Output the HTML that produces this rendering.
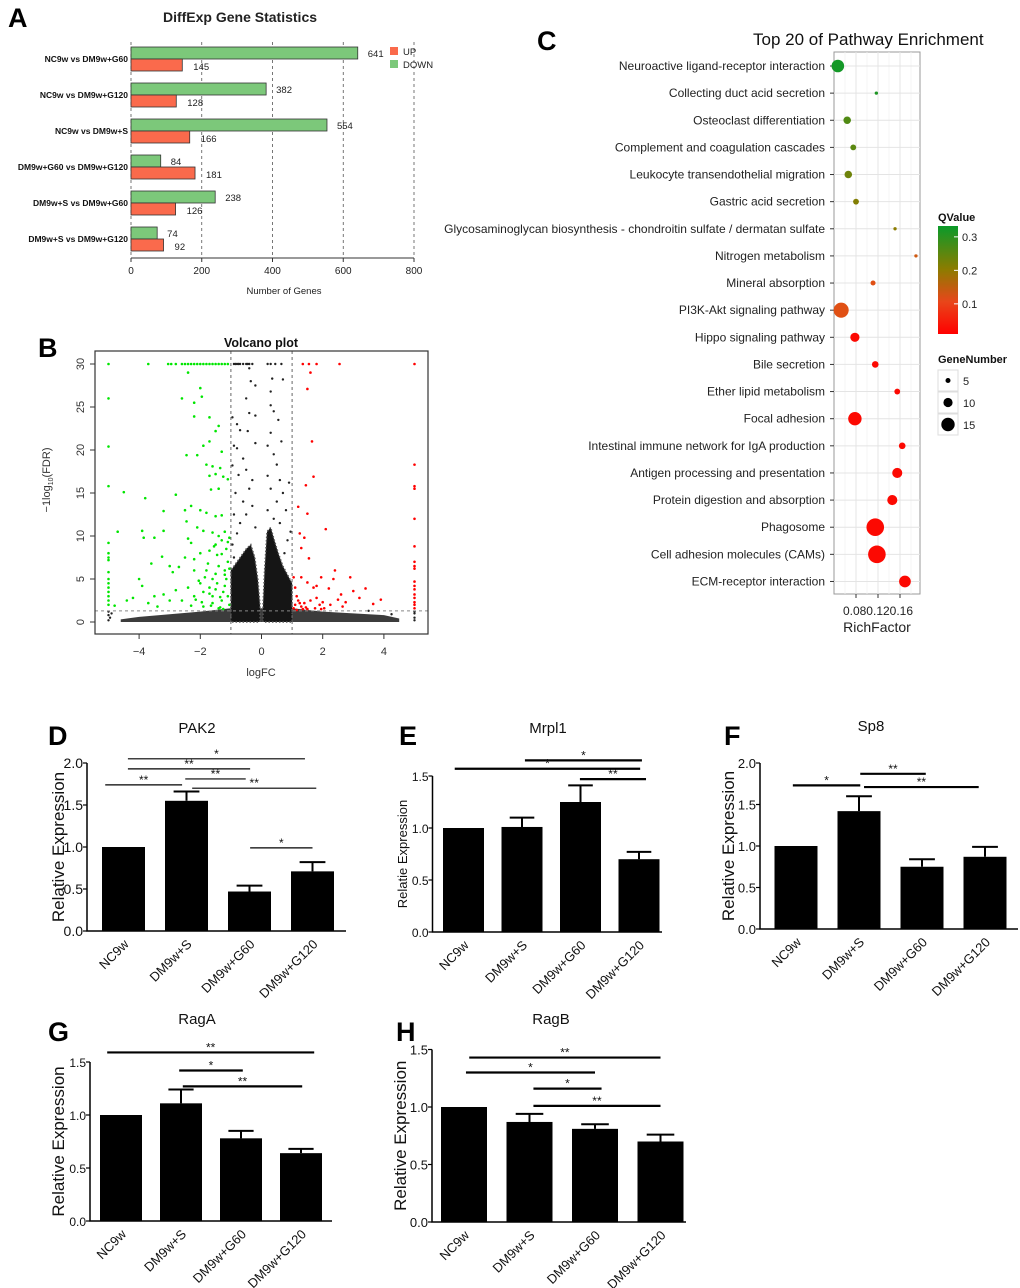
<!DOCTYPE html>
<html><head><meta charset="utf-8"><style>
html,body{margin:0;padding:0;background:#fff}
svg{display:block;font-family:"Liberation Sans",Arial,sans-serif}
</style></head><body>
<svg id="fig" width="1020" height="1288" viewBox="0 0 1020 1288" xmlns="http://www.w3.org/2000/svg">
<defs>
<linearGradient id="qgrad" x1="0" y1="1" x2="0" y2="0">
<stop offset="0" stop-color="#ff0000"/><stop offset="0.3" stop-color="#e8461a"/><stop offset="0.6" stop-color="#8c7c00"/><stop offset="1" stop-color="#0a9a2a"/>
</linearGradient>
</defs>
</svg>
<script>
// ---------- Panel A data ----------
const aCats=["NC9w vs DM9w+G60","NC9w vs DM9w+G120","NC9w vs DM9w+S","DM9w+G60 vs DM9w+G120","DM9w+S vs DM9w+G60","DM9w+S vs DM9w+G120"];
const aDown=[641,382,554,84,238,74];
const aUp=[145,128,166,181,126,92];
const aTicks=[0,200,400,600,800];
// ---------- Panel C data ----------
const cPathways=["Neuroactive ligand-receptor interaction","Collecting duct acid secretion","Osteoclast differentiation","Complement and coagulation cascades","Leukocyte transendothelial migration","Gastric acid secretion","Glycosaminoglycan biosynthesis - chondroitin sulfate / dermatan sulfate","Nitrogen metabolism","Mineral absorption","PI3K-Akt signaling pathway","Hippo signaling pathway","Bile secretion","Ether lipid metabolism","Focal adhesion","Intestinal immune network for IgA production","Antigen processing and presentation","Protein digestion and absorption","Phagosome","Cell adhesion molecules (CAMs)","ECM-receptor interaction"];
const cRich=[0.047,0.117,0.064,0.075,0.066,0.080,0.151,0.189,0.111,0.053,0.078,0.115,0.155,0.078,0.164,0.155,0.146,0.115,0.118,0.169];
const cGenes=[14,3,8,6,8,6,3,3,5,17,10,7,6,15,7,11,11,20,20,13];
const cQ=[0.32,0.31,0.26,0.25,0.23,0.21,0.20,0.12,0.10,0.10,0.02,0.02,0.02,0.02,0.02,0.02,0.02,0.02,0.02,0.02];
const cXTicks=[0.08,0.12,0.16];
const cQTicks=[0.3,0.2,0.1];
const cSizeKeys=[5,10,15];
// ---------- Panel B data ----------
const greenX=[-5,-5,-5,-5,-5,-5,-5,-5,-5,-5,-5,-5,-5,-5,-5,-5,-4.5,-4.7,-3.8,-3.9,-3.85,-3.5,-3.2,-3.2,-3.25,-3.6,-4,-3.9,-2.8,-3,-2.9,-2.5,-2.45,-2.4,-2.3,-2.45,-2.6,-2.2,-2.2,-2.4,-2,-1.95,-1.7,-1.4,-1.5,-1.9,-1.7,-1.3,-2.1,-1.8,-1.6,-1.35,-1.7,-1.5,-1.25,-1.1,-1.65,-1.4,-2,-1.8,-1.5,-1.3,-2.3,-2.1,-1.9,-1.6,-1.2,-1.05,-1.3,-1.5,-1.7,-2,-2.2,-2.5,-2.7,-2.2,-1.8,-1.4,-1.1,-1.2,-1.6,-2,-2.4,-2.8,-3.2,-3.5,-4.2,-4.4,-3.7,-3,-2.6,-2.2,-1.9,-1.5,-1.2,-1.1,-1.3,-1.6,-1.9,-2.3,-1.05,-1.4,-1.7,-1.45,-1.25,-1.15,-1.6,-1.35,-4.8,-3.4,-3.7,-3.05,-2.95,-2.8,-2.6,-2.5,-2.4,-2.3,-2.2,-2.1,-2.0,-1.9,-1.8,-1.7,-1.6,-1.5,-1.4,-1.3,-1.2,-1.1,-1.75,-1.45,-1.15,-1.05,-1.55,-1.85,-2.05,-1.25,-1.35,-1.65,-1.95,-2.15,-1.1,-1.3,-1.5,-1.7,-1.2,-1.4];
const greenY=[30,26,20.4,15.8,9.2,8,7.5,7.2,5.8,5,4.5,4,3.5,3,2.5,2,15.1,10.5,14.4,10.6,9.8,9.8,12.9,10.6,7.6,6.8,5,4.2,14.8,6.5,5.8,13,11.7,9.7,9.2,19.4,26,25.5,23.9,29,27.2,26.2,23.8,22.8,22.2,20.5,21,19.8,19.4,18.3,18.1,17.9,17,17.2,16.9,16.6,15.4,15.5,13,12.7,12.3,12.4,13.5,11,10.6,10.4,10.5,9.8,9.5,9,8.3,8,7.3,7.5,6.4,6,6,6.5,7,5.5,5,4.5,4,3.7,3.2,3,2.8,2.5,2.2,2.5,2.5,3,3.5,3.8,4.2,3,2.5,2.2,1.8,1.9,2,1.6,4,4.5,3.5,5,3,2.9,1.9,1.8,30,30,30,30,30,30,30,30,30,30,30,30,30,30,30,30,30,30,30,30,6.8,7.8,8.5,6.2,8.8,5.2,4.8,1.5,1.7,1.9,2.3,2.6,9.3,7.9,5.6,3.3,6,10];
const redX=[5,5,5,5,5,5,5,5,5,5,5,5,5,5,5,5,5,1.35,1.55,1.8,2.55,1.6,1.5,1.65,1.7,1.45,1.5,1.2,1.25,1.4,1.3,1.55,2.1,1.3,1.05,1.1,1.5,1.7,1.95,1.8,2.4,2.35,2.9,2.6,3,3.4,2.2,1.8,1.6,1.4,1.2,1.1,1.3,1.5,2,2.25,2.5,2.75,3.2,3.9,3.65,2.65,1.95,1.15,1.25,1.05,1.35,1.45,1.75,1.9,1.15,2.05];
const redY=[30,18.3,15.8,15.5,12,8.8,7,6.5,6.2,4.7,4.2,3.8,3.2,2.8,2.3,2,1.6,30,30,30,30,29,27.1,21,16.9,15.9,12.6,13.4,10.3,9.8,8.6,7.4,10.8,5.2,5.2,4,4.6,4,5.2,4.2,6,5,5.2,3.2,3.6,3.9,3.9,2.8,2.5,2.2,2.5,2,1.8,1.5,2.3,2,2.6,2.3,2.8,2.6,2.1,1.8,1.5,3,2.2,1.6,1.5,1.7,1.6,2,1.4,1.6];
const blackX=[-0.9,-0.85,-0.8,-0.75,-0.7,-0.6,-0.5,-0.45,-0.4,-0.3,0.2,0.3,0.45,0.65,-0.4,-0.35,-0.2,0.35,0.7,0.3,-0.5,0.3,0.4,-0.4,-0.2,-0.95,-0.8,0.55,0.3,-0.7,-0.45,0.2,0.65,-0.9,-0.8,-0.2,0.4,-0.6,0.5,-0.95,-0.5,0.2,-0.75,0.9,0.6,-0.3,0.3,-0.4,0.7,-0.85,0.5,-0.6,-0.3,0.8,0.2,-0.9,-0.5,0.4,0.6,-0.7,-0.2,0.95,-0.8,0.85,-0.95,0.75,-0.9,4.25,3.5,-4.9,-4.95,-5,-5,-5,5,5,5,5];
const blackY=[30,30,30,30,30,30,30,30,30,30,30,30,30,30,29.5,28,27.5,28.3,28.2,26.8,26,25.2,24.5,24.3,24,23.8,23,23.5,22,22.3,22.2,20.5,21,20.5,20.2,20.8,19.5,19,18.3,18.2,17.7,17,17.1,16.2,16.5,16.5,15.5,15.5,15,15,14,14,13.5,13,13,12.5,12.5,12,11.5,11.5,11,10.5,10.3,9.5,9,8,7.5,0.9,1.3,1,0.5,0.2,0.8,1.2,0.5,1,0.2,1.2];
const coreLX=[-1,-0.9,-0.7,-0.5,-0.35,-0.22,-0.12,-0.05];
const coreLY=[6,6.5,7.5,8.5,9,7.5,5,2];
const coreRX=[0.05,0.1,0.18,0.3,0.42,0.55,0.7,0.85,1];
const coreRY=[2,6,10.5,11,9.5,8,6.5,5.5,4.5];
const baseX=[-4.6,-4,-3,-2,-1,0,1,2,3,4,4.5];
const baseY=[0.3,0.6,0.9,1.2,1.6,1.6,1.6,1.2,1,0.8,0.4];
const vXTicks=[-4,-2,0,2,4];
const vYTicks=[0,5,10,15,20,25,30];
// ---------- Bar panels data ----------
const barCats=["NC9w","DM9w+S","DM9w+G60","DM9w+G120"];
const dVals=[1.0,1.55,0.47,0.71]; const dErrs=[0,0.11,0.07,0.11];
const dSigY=[2.05,1.93,1.74,1.81,1.70,0.99]; const dSigA=[0.07,0.07,-0.29,0.98,1.09,2.01]; const dSigB=[2.88,2.01,0.93,1.94,3.06,3.0]; const dSigL=["*","**","**","**","**","*"];
const dTicks=[0.0,0.5,1.0,1.5,2.0];
const eVals=[1.0,1.01,1.25,0.70]; const eErrs=[0,0.09,0.16,0.07];
const eSigY=[1.65,1.57,1.47]; const eSigA=[1.05,-0.15,1.99]; const eSigB=[3.05,3.02,3.12]; const eSigL=["*","*","**"];
const eTicks=[0.0,0.5,1.0,1.5];
const fVals=[1.0,1.42,0.75,0.87]; const fErrs=[0,0.18,0.09,0.12];
const fSigY=[1.73,1.87,1.71]; const fSigA=[-0.05,1.02,1.08]; const fSigB=[1.02,2.06,2.9]; const fSigL=["*","**","**"];
const fTicks=[0.0,0.5,1.0,1.5,2.0];
const gVals=[1.0,1.11,0.78,0.64]; const gErrs=[0,0.13,0.07,0.04];
const gSigY=[1.59,1.42,1.27]; const gSigA=[-0.23,0.97,1.03]; const gSigB=[3.22,2.03,3.02]; const gSigL=["**","*","**"];
const gTicks=[0.0,0.5,1.0,1.5];
const hVals=[1.0,0.87,0.81,0.70]; const hErrs=[0,0.07,0.04,0.06];
const hSigY=[1.43,1.30,1.16,1.01]; const hSigA=[0.08,0.03,1.06,1.06]; const hSigB=[3.0,2.0,2.1,3.0]; const hSigL=["**","*","*","**"];
const hTicks=[0.0,0.5,1.0,1.5];

const NS="http://www.w3.org/2000/svg";
const svg=document.getElementById("fig");
function mk(p,tag,at,txt){const e=document.createElementNS(NS,tag);for(const k in at)e.setAttribute(k,at[k]);if(txt!==undefined)e.textContent=txt;p.appendChild(e);return e;}
function grp(name){const g=mk(svg,"g",{});return g;}

// ================= Panel A =================
(function(){
const g=grp("panel-a-diffexp-bars");
let el;
el=mk(g,"text",{x:8,y:27,"font-size":27,"font-weight":"bold"},"A");


el=mk(g,"text",{x:240,y:22,"font-size":14,"font-weight":"bold","text-anchor":"middle",fill:"#222"},"DiffExp Gene Statistics");


const xA=v=>131+v*283/800;
aTicks.forEach(t=>{
  el=mk(g,"line",{x1:xA(t),x2:xA(t),y1:42,y2:258,stroke:"#555","stroke-dasharray":"3,3","stroke-width":0.8});
  
  
  el=mk(g,"line",{x1:xA(t),x2:xA(t),y1:258,y2:262,stroke:"#333"});
  
  
  el=mk(g,"text",{x:xA(t),y:274,"font-size":10,"text-anchor":"middle",fill:"#222"},String(t));
  
  
});
el=mk(g,"line",{x1:131,x2:414,y1:258,y2:258,stroke:"#333","stroke-width":1});


aCats.forEach((c,i)=>{
  const top=47+36*i;
  el=mk(g,"rect",{x:xA(0),y:top,width:xA(aDown[i])-xA(0),height:12,fill:"#7cc87a",stroke:"#333","stroke-width":0.8});
  
  
  el=mk(g,"rect",{x:xA(0),y:top+12,width:xA(aUp[i])-xA(0),height:12,fill:"#fa6a4c",stroke:"#333","stroke-width":0.8});
  
  
  el=mk(g,"text",{x:xA(aDown[i])+10,y:top+10,"font-size":9.5,fill:"#222"},String(aDown[i]));
  
  
  el=mk(g,"text",{x:xA(aUp[i])+11,y:top+23,"font-size":9.5,fill:"#222"},String(aUp[i]));
  
  
  el=mk(g,"text",{x:128,y:top+15,"font-size":8.5,"font-weight":"bold","text-anchor":"end",fill:"#111"},c);
  
  
});
el=mk(g,"text",{x:284,y:294,"font-size":9.5,"text-anchor":"middle",fill:"#222"},"Number of Genes");


el=mk(g,"rect",{x:390,y:47,width:8,height:8,fill:"#fa6a4c"});


el=mk(g,"text",{x:403,y:55,"font-size":9.5,fill:"#222"},"UP");


el=mk(g,"rect",{x:390,y:60,width:8,height:8,fill:"#7cc87a"});


el=mk(g,"text",{x:403,y:68,"font-size":9.5,fill:"#222"},"DOWN");


})();

// ================= Panel C =================
(function(){
const g=grp("panel-c-pathway-enrichment");
let el;
el=mk(g,"text",{x:537,y:50,"font-size":27,"font-weight":"bold"},"C");


el=mk(g,"text",{x:753,y:45,"font-size":17,fill:"#111"},"Top 20 of Pathway Enrichment");


const xC=v=>856+(v-0.08)*550;
const yC=i=>66+i*27.13;
el=mk(g,"rect",{x:834,y:52,width:86,height:542,fill:"#fff",stroke:"#999","stroke-width":1});


[0.06,0.10,0.14,0.18].forEach(v=>{
  el=mk(g,"line",{x1:xC(v),x2:xC(v),y1:52,y2:594,stroke:"#f2f2f2","stroke-width":0.8});
  
  
});
cXTicks.forEach(v=>{
  el=mk(g,"line",{x1:xC(v),x2:xC(v),y1:52,y2:594,stroke:"#e4e4e4","stroke-width":1});
  
  
  el=mk(g,"line",{x1:xC(v),x2:xC(v),y1:594,y2:598,stroke:"#333"});
  
  
});
el=mk(g,"text",{x:878,y:615,"font-size":12,"text-anchor":"middle",fill:"#222"},cXTicks.map(v=>v.toFixed(2)).join(""));


el=mk(g,"text",{x:877,y:632,"font-size":14,"text-anchor":"middle",fill:"#222"},"RichFactor");


function qcol(q){const stops=[[0.01,[255,0,0]],[0.1,[224,80,20]],[0.2,[140,124,0]],[0.33,[10,154,42]]];
  if(q<=stops[0][0])return "rgb(255,0,0)";
  for(let k=1;k<stops.length;k++){if(q<=stops[k][0]){const a=stops[k-1],b=stops[k],t=(q-a[0])/(b[0]-a[0]);return "rgb("+a[1].map((c,j)=>Math.round(c+(b[1][j]-c)*t)).join(",")+")";}}
  return "rgb(10,154,42)";}
const rad=n=>0.42*n+0.4;
cPathways.forEach((p,i)=>{
  el=mk(g,"line",{x1:834,x2:920,y1:yC(i),y2:yC(i),stroke:"#e4e4e4","stroke-width":1});
  
  
  el=mk(g,"line",{x1:830,x2:834,y1:yC(i),y2:yC(i),stroke:"#333"});
  
  
  el=mk(g,"text",{x:825,y:yC(i)+4,"font-size":12,"text-anchor":"end",fill:"#222"},p);
  
  
});
cPathways.forEach((p,i)=>{
  el=mk(g,"circle",{cx:xC(cRich[i]),cy:yC(i),r:rad(cGenes[i]),fill:qcol(cQ[i])});
  
  
});
el=mk(g,"text",{x:938,y:221,"font-size":11,"font-weight":"bold",fill:"#111"},"QValue");


el=mk(g,"rect",{x:938,y:226,width:20,height:108,fill:"url(#qgrad)"});


const yQ=q=>334-(q-0.01)*335;
cQTicks.forEach(q=>{
  el=mk(g,"line",{x1:954,x2:958,y1:yQ(q),y2:yQ(q),stroke:"#fff"});
  
  
  el=mk(g,"text",{x:962,y:yQ(q)+4,"font-size":11,fill:"#222"},String(q));
  
  
});
el=mk(g,"text",{x:938,y:363,"font-size":11,"font-weight":"bold",fill:"#111"},"GeneNumber");


cSizeKeys.forEach((n,k)=>{
  const y=370+k*22;
  el=mk(g,"rect",{x:938,y:y,width:20,height:21,fill:"#fff",stroke:"#ddd"});
  
  
  el=mk(g,"circle",{cx:948,cy:y+10.5,r:rad(n),fill:"#000"});
  
  
  el=mk(g,"text",{x:963,y:y+15,"font-size":11,fill:"#222"},String(n));
  
  
});
})();

// ================= Panel B =================
(function(){
const g=grp("panel-b-volcano");
let el;
el=mk(g,"text",{x:38,y:357,"font-size":27,"font-weight":"bold"},"B");


el=mk(g,"text",{x:261,y:347,"font-size":12.5,"font-weight":"bold","text-anchor":"middle",fill:"#111"},"Volcano plot");


const xV=v=>261.5+v*30.6, yV=v=>622-v*8.6;
function area(xs,ys){let d="M"+xV(xs[0])+","+yV(0);xs.forEach((x,k)=>{d+=" L"+xV(x)+","+yV(ys[k]);});d+=" L"+xV(xs[xs.length-1])+","+yV(0)+" Z";return d;}
el=mk(g,"path",{d:area(baseX,baseY),fill:"#1a1a1a",opacity:0.85});


el=mk(g,"path",{d:area(coreLX,coreLY),fill:"#151515",stroke:"#555","stroke-width":1.5,"stroke-dasharray":"1.5,2"});


el=mk(g,"path",{d:area(coreRX,coreRY),fill:"#151515",stroke:"#555","stroke-width":1.5,"stroke-dasharray":"1.5,2"});


blackX.forEach((x,k)=>{
  el=mk(g,"circle",{cx:xV(x),cy:yV(blackY[k]),r:1.2,fill:"#222"});
  
  
});
greenX.forEach((x,k)=>{
  el=mk(g,"circle",{cx:xV(x),cy:yV(greenY[k]),r:1.3,fill:"#00e600"});
  
  
});
redX.forEach((x,k)=>{
  el=mk(g,"circle",{cx:xV(x),cy:yV(redY[k]),r:1.3,fill:"#ff0000"});
  
  
});
[-1,1].forEach(v=>{
  el=mk(g,"line",{x1:xV(v),x2:xV(v),y1:351,y2:634,stroke:"#666","stroke-dasharray":"3,3"});
  
  
});
el=mk(g,"line",{x1:95,x2:428,y1:yV(1.3),y2:yV(1.3),stroke:"#888","stroke-dasharray":"3,3"});


el=mk(g,"rect",{x:95,y:351,width:333,height:283,fill:"none",stroke:"#333","stroke-width":1.2});


vXTicks.forEach(t=>{
  el=mk(g,"line",{x1:xV(t),x2:xV(t),y1:634,y2:639,stroke:"#333"});
  
  
  el=mk(g,"text",{x:xV(t),y:655,"font-size":11,"text-anchor":"middle",fill:"#333"},(t<0?"\u2212"+(-t):String(t)));
  
  
});
vYTicks.forEach(t=>{
  el=mk(g,"line",{x1:90,x2:95,y1:yV(t),y2:yV(t),stroke:"#333"});
  
  
  el=mk(g,"text",{x:84,y:yV(t),"font-size":11,"text-anchor":"middle",fill:"#333",transform:"rotate(-90 84 "+yV(t)+")"},String(t));
  
  
});
el=mk(g,"text",{x:261,y:676,"font-size":11,"text-anchor":"middle",fill:"#333"},"logFC");


el=mk(g,"text",{x:50,y:480,"font-size":11,"text-anchor":"middle",fill:"#333",transform:"rotate(-90 50 480)"});


mk(el,"tspan",{},"\u22121log");
mk(el,"tspan",{"font-size":7,dy:3},"10");
mk(el,"tspan",{dy:-3},"(FDR)");
})();

// ================= Bar panels =================
function barPanel(cfg){
  const g=grp(cfg.name);
  let el;
  const yS=v=>cfg.y0-v*cfg.ppu, xS=c=>cfg.c0+c*cfg.step;
  const top=yS(cfg.ticks[cfg.ticks.length-1]);
  el=mk(g,"text",{x:cfg.lx,y:cfg.ly,"font-size":27,"font-weight":"bold"},cfg.letter);
  
  
  el=mk(g,"text",{x:cfg.tx,y:cfg.ty,"font-size":15,"text-anchor":"middle",fill:"#111"},cfg.title);
  
  
  cfg.vals.forEach((v,i)=>{
    el=mk(g,"rect",{x:xS(i)-cfg.bw/2,y:yS(v),width:cfg.bw,height:yS(0)-yS(v),fill:"#000"});
    
    
    if(cfg.errs[i]>0){
      el=mk(g,"path",{d:"M"+xS(i)+","+yS(v)+" V"+yS(v+cfg.errs[i])+" M"+(xS(i)-cfg.bw*0.3)+","+yS(v+cfg.errs[i])+" H"+(xS(i)+cfg.bw*0.3),stroke:"#000","stroke-width":2,fill:"none"});
      
      
    }
    const lx=xS(i)+6, ly=cfg.y0+14;
    el=mk(g,"text",{x:lx,y:ly,"font-size":13,"text-anchor":"end",fill:"#111",transform:"rotate(-45 "+lx+" "+ly+")"},barCats[i]);
    
    
  });
  el=mk(g,"path",{d:"M"+cfg.ax+","+top+" V"+cfg.y0+" H"+cfg.xEnd,stroke:"#000","stroke-width":1.5,fill:"none"});
  
  
  cfg.ticks.forEach(t=>{
    el=mk(g,"line",{x1:cfg.ax-4,x2:cfg.ax,y1:yS(t),y2:yS(t),stroke:"#000","stroke-width":1.2});
    
    
    el=mk(g,"text",{x:cfg.ax-4,y:yS(t)+5,"font-size":cfg.tfs,"text-anchor":"end",fill:"#111"},t.toFixed(1));
    
    
  });
  const yl=(cfg.y0+top)/2;
  el=mk(g,"text",{x:cfg.ylx,y:yl,"font-size":cfg.yfs,"text-anchor":"middle",fill:"#111",transform:"rotate(-90 "+cfg.ylx+" "+yl+")"},cfg.ylabel);
  
  
  cfg.sigY.forEach((s,k)=>{
    el=mk(g,"line",{x1:xS(cfg.sigA[k]),x2:xS(cfg.sigB[k]),y1:yS(s),y2:yS(s),stroke:"#000","stroke-width":cfg.sw});
    
    
    el=mk(g,"text",{x:(xS(cfg.sigA[k])+xS(cfg.sigB[k]))/2,y:yS(s)-1,"font-size":12,"text-anchor":"middle",fill:"#111"},cfg.sigL[k]);
    
    
  });
}
barPanel({name:"panel-d-pak2",letter:"D",lx:48,ly:745,title:"PAK2",tx:197,ty:733,ax:87,y0:931,ppu:84,c0:123.5,step:63,bw:43,xEnd:346,ticks:dTicks,tfs:14,ylabel:"Relative Expression",ylx:64,yfs:17,vals:dVals,errs:dErrs,sigY:dSigY,sigA:dSigA,sigB:dSigB,sigL:dSigL,sw:1.2});
barPanel({name:"panel-e-mrpl1",letter:"E",lx:399,ly:745,title:"Mrpl1",tx:548,ty:733,ax:432.5,y0:932,ppu:104,c0:463.5,step:58.5,bw:41,xEnd:662,ticks:eTicks,tfs:12,ylabel:"Relatie Expression",ylx:407,yfs:13,vals:eVals,errs:eErrs,sigY:eSigY,sigA:eSigA,sigB:eSigB,sigL:eSigL,sw:2.2});
barPanel({name:"panel-f-sp8",letter:"F",lx:724,ly:745,title:"Sp8",tx:871,ty:731,ax:760,y0:929,ppu:83,c0:796,step:63,bw:43,xEnd:1018,ticks:fTicks,tfs:13,ylabel:"Relative Expression",ylx:734,yfs:17,vals:fVals,errs:fErrs,sigY:fSigY,sigA:fSigA,sigB:fSigB,sigL:fSigL,sw:2.2});
barPanel({name:"panel-g-raga",letter:"G",lx:48,ly:1041,title:"RagA",tx:197,ty:1024,ax:90,y0:1221,ppu:106,c0:121,step:60,bw:42,xEnd:332,ticks:gTicks,tfs:12,ylabel:"Relative Expression",ylx:64,yfs:17,vals:gVals,errs:gErrs,sigY:gSigY,sigA:gSigA,sigB:gSigB,sigL:gSigL,sw:2.2});
barPanel({name:"panel-h-ragb",letter:"H",lx:396,ly:1041,title:"RagB",tx:551,ty:1024,ax:432,y0:1222,ppu:115,c0:464,step:65.5,bw:46,xEnd:686,ticks:hTicks,tfs:13,ylabel:"Relative Expression",ylx:406,yfs:17,vals:hVals,errs:hErrs,sigY:hSigY,sigA:hSigA,sigB:hSigB,sigL:hSigL,sw:2.2});
</script>
</body></html>
